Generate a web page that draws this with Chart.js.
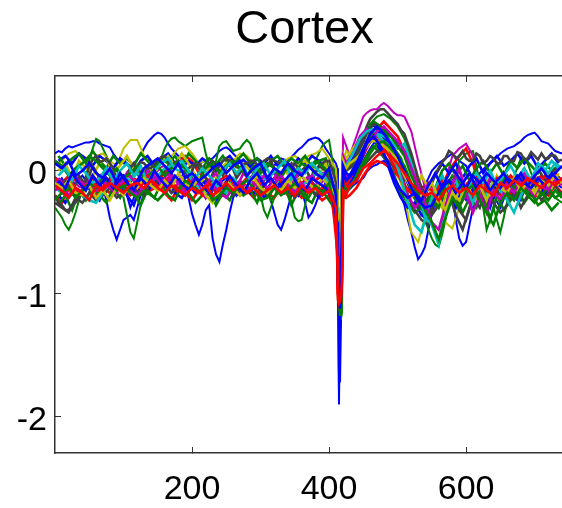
<!DOCTYPE html>
<html>
<head>
<meta charset="utf-8">
<title>Cortex</title>
<script src="https://cdn.jsdelivr.net/npm/chart.js@4"></script>
<style>
html, body { margin: 0; padding: 0; background: #fff; overflow: hidden; }
canvas { display: block; }
</style>
</head>
<body>
<canvas id="cortex-chart" width="562" height="508"></canvas>
<script>
// sample positions, denser around the stimulus artefact
const xs = [0,10,20,30,40,50,60,70,80,90,100,110,120,130,140,150,160,170,180,190,200,210,220,230,240,250,260,270,280,290,300,310,320,330,340,350,360,370,380,390,400,410,
  412,413,414.5,416,417.5,419,420.5,425,
  430,440,450,460,470,480,490,500,510,520,530,540,550,560,570,580,590,600,610,620,630,640,650,660,670,680,690,700,710,720,730,740];
const xsB = [5,15,25,35,45,55,65,75,85,95,105,115,125,135,145,155,165,175,185,195,205,215,225,235,245,255,265,275,285,295,305,315,325,335,345,355,365,375,385,395,405,
  412,413,414.5,416,417.5,419,420.5,425,
  435,445,455,465,475,485,495,505,515,525,535,545,555,565,575,585,595,605,615,625,635,645,655,665,675,685,695,705,715,725,735];
const xsFine = [0,5,10,15,20,25,30,35,40,45,50,55,60,65,70,75,80,85,90,95,100,105,110,115,120,125,130,135,140,145,150,155,160,165,170,175,180,185,190,195,200,205,210,215,220,225,230,235,240,245,250,255,260,265,270,275,280,285,290,295,300,305,310,315,320,325,330,335,340,345,350,355,360,365,370,375,380,385,390,395,400,405,410,
  412,413,414.5,416,417.5,419,420.5,425,
  430,435,440,445,450,455,460,465,470,475,480,485,490,495,500,505,510,515,520,525,530,535,540,545,550,555,560,565,570,575,580,585,590,595,600,605,610,615,620,625,630,635,640,645,650,655,660,665,670,675,680,685,690,695,700,705,710,715,720,725,730,735,740];

// traces, in hundredths
const blueDips = [-5,-8,-7,-10,-12,-9,-6,-9,-10,-8,-7,-10,-9,-11,-14,-24,-38,-48,-56,-48,-40,-38,-36,-40,-30,-20,-14,-10,-8,-11,-9,-6,-6,-9,-10,-8,-7,-10,-12,-22,-35,-44,-52,-44,-32,-28,-55,-68,-74,-60,-48,-34,-22,-16,-12,-15,-14,-17,-18,-13,-10,-12,-14,-24,-34,-44,-48,-40,-30,-20,-12,-13,-15,-26,-38,-34,-28,-20,-14,-17,-18,-24,-30,
  -40,-80,-190,-110,-70,-60,-20,-12,
  -15,-12,-10,-8,-6,-1,2,4,5,7,8,4,0,-6,-12,-20,-28,-40,-50,-62,-72,-68,-62,-48,-35,-26,-18,-14,-12,-16,-20,-40,-55,-61,-58,-44,-30,-20,-15,-22,-28,-20,-12,-16,-20,-13,-8,-11,-14,-20,-24,-16,-10,-14,-16,-14,-12,-17,-20,-14,-10,-12,-14];
const blueTop = [14,16,15,18,20,19,20,21,22,23,23,24,24,22,21,20,19,14,10,8,6,5,4,6,9,13,18,23,26,29,31,30,27,22,18,15,12,10,8,7,6,5,5,7,8,9,10,13,16,18,19,17,14,11,8,7,6,5,4,3,2,4,5,4,4,7,10,9,8,11,14,17,19,22,25,26,27,26,23,18,14,10,6,
  2,-60,-100,-172,-120,-70,10,5,
  4,8,14,18,22,25,28,31,34,33,32,30,28,25,22,18,14,8,2,-7,-16,-14,-12,-6,0,3,6,8,10,12,14,11,8,6,4,-1,-6,-4,-2,1,4,6,8,11,14,16,18,19,20,22,24,27,29,30,31,28,24,23,22,19,16,15,14];
const greenSwing = [-30,-34,-38,-44,-48,-42,-34,-24,-15,-4,8,18,26,24,18,12,6,0,-8,-14,-22,-36,-50,-55,-42,-28,-16,-10,-6,-1,4,10,18,23,26,27,24,22,20,22,24,25,26,27,14,4,2,8,20,23,24,20,16,17,18,22,25,22,14,-2,-20,-32,-38,-30,-22,-14,-8,-10,-14,-26,-38,-41,-40,-28,-14,-4,8,14,20,23,25,8,-8,
  -45,-110,-118,-119,-120,-115,-10,-8,
  -5,2,10,18,26,32,38,41,44,45,46,44,42,39,36,31,26,18,10,-5,-20,-30,-40,-48,-55,-60,-62,-52,-40,-25,-10,-1,8,11,14,15,16,4,-10,-30,-48,-40,-30,-40,-50,-38,-25,-14,-5,3,10,8,6,-2,-8,-12,-16,-17,-18,-20,-22,-24,-26];
const magentaPeak = [-8,-11,-12,-7,-6,-9,-10,-13,-14,-8,-4,-7,-8,-4,-2,-8,-12,-8,-6,-9,-10,-13,-14,-10,-8,-4,-2,-5,-6,-3,0,3,4,-1,-4,-7,-8,-4,-2,-7,-10,-15,-18,-15,-14,-10,-8,-13,-16,-12,-10,-7,-6,-11,-14,-10,-8,-5,-4,-9,-12,-8,-6,-3,-2,-7,-10,-13,-16,-10,-6,-10,-12,-7,-4,-7,-8,-4,-2,-1,-14,-18,-24,
  -50,-80,-100,-90,-70,-20,27,20,
  12,20,28,36,44,47,49,50,50,53,55,53,50,47,45,45,44,38,32,20,8,-3,-14,-24,-34,-31,-28,-18,-8,2,12,15,18,20,22,17,12,-1,-14,-22,-30,-26,-22,-17,-12,-16,-20,-17,-14,-11,-8,-12,-16,-14,-12,-9,-6,-10,-14,-12,-10,-8,-6];
const grayHigh = [-20,-26,-28,-32,-32,-28,-26,-22,-18,-6,4,9,12,7,8,10,6,2,0,-3,-4,-8,-10,-3,4,7,6,3,2,6,8,11,12,8,4,7,8,2,-2,2,4,6,6,3,2,6,8,5,4,8,10,7,6,3,2,5,6,8,8,5,4,8,10,9,8,7,6,3,2,5,6,2,0,3,4,1,-2,3,6,8,8,0,-10,
  -40,-70,-85,-80,-60,-20,10,6,
  4,8,12,20,28,36,42,45,48,50,50,47,44,41,38,33,30,22,14,4,-6,-14,-20,-14,-10,-3,2,7,10,16,14,10,12,16,10,8,8,14,12,6,8,12,10,6,6,12,12,8,8,15,14,9,10,15,12,9,14,10,10,13,12,8,9];

const oliveHump = [4,8,14,16,10,6,12,14,8,4,18,25,25,12,6,4,8,12,18,20,14,6,8,4,6,10,8,14,12,6,4,6,8,4,10,12,8,12,14,18,10,2,
  -15,-60,-95,-110,-80,-30,5,16,
  14,8,20,30,32,26,18,8,-20,-50,-58,-38,-24,-16,-42,-47,-30,-20,-10,-18,-6,-22,-10,-14,-4,-12,-20,-6,-12,-4,-14,-8];
const grayLow = [-26,-30,-34,-22,-26,-18,-24,-20,-14,-22,-18,-12,-16,-20,-8,-14,-10,-18,-14,-20,-12,-16,-22,-14,-18,-12,-20,-14,-18,-10,-16,-20,-12,-18,-14,-22,-16,-12,-20,-14,-18,-30,
  -45,-70,-80,-75,-65,-30,-8,-16,
  -12,-8,4,10,16,12,6,-2,-14,-26,-30,-22,-36,-28,-14,-18,-32,-40,-22,-30,-14,-26,-34,-28,-16,-30,-20,-14,-24,-18,-12,-20];
const cyanBand = [-14,-18,-22,-16,-20,-24,-26,-18,-10,-6,-4,-8,-2,-6,-10,-4,2,4,0,2,-8,-14,-18,-10,-14,-18,-6,-12,-8,-14,-4,-8,-12,-6,-10,-4,-12,-8,-2,-6,-10,-22,
  -35,-60,-75,-70,-55,-15,0,-6,
  -4,6,18,26,30,28,24,18,22,6,-16,-38,-44,-60,-30,-20,-8,-14,-26,-12,-20,-8,-16,-24,-34,-20,-10,-2,4,-2,6,2];
const greenMid = [8,4,-4,2,6,12,8,2,-4,2,-6,-2,4,-8,-2,4,-4,2,8,2,-4,-8,2,6,-2,4,8,2,-4,4,-2,6,2,-6,4,-2,6,2,8,4,-2,-18,
  -40,-80,-95,-100,-90,-40,-2,-8,
  -6,4,16,28,36,34,28,20,12,-4,-16,-26,-22,-30,-14,-4,-10,-18,-8,-22,-12,-20,-10,-4,-14,-8,-18,-10,-20,-14,-22,-18];
const blueMid = [6,2,8,-4,0,6,-2,-6,2,-10,-4,-14,-8,2,6,10,4,-2,6,-6,-2,-8,-4,2,6,-2,4,8,-4,2,6,-6,2,-2,6,0,-4,4,-2,-6,2,-20,
  -50,-90,-105,-112,-100,-60,4,-2,
  -4,6,18,30,36,30,22,12,0,-14,-24,-30,-28,-18,-8,2,-6,-14,-4,-10,-2,-8,-14,-6,-10,-2,-12,-4,2,-6,-2,4];
const oliveLow = [-10,-14,-8,-18,-20,-12,-22,-16,-24,-14,-20,-10,-14,-6,-12,-16,-8,-14,-2,-10,-14,-6,-20,-26,-16,-8,-14,-20,-12,-6,-14,-18,-10,-16,-8,-14,-4,-10,-16,-6,-12,-20,
  -35,-55,-65,-60,-50,-12,8,2,
  6,10,16,24,24,20,16,8,-4,-14,-22,-18,-10,-22,-32,-18,-24,-14,-20,-12,-24,-8,-14,-18,-6,-16,-10,-18,-8,-12,-4,-10];
const magentaLow = [-16,-12,-20,-14,-18,-10,-16,-8,-14,-18,-12,-16,-20,-14,-8,-6,-12,-4,-10,-18,-14,-8,-22,-12,-18,-22,-14,-8,-16,-12,-6,-14,-10,-4,-12,-18,-10,-16,-12,-20,-14,-24,
  -40,-65,-80,-70,-60,-20,4,-4,
  -6,4,14,24,32,36,30,24,16,2,-12,-26,-42,-48,-28,-12,2,-18,-34,-20,-34,-16,-24,-12,-18,-8,-14,-20,-10,-16,-6,-12];
const greenLow = [-24,-18,-14,-22,-16,-10,-14,-6,-10,-16,-12,-18,-22,-16,-20,-24,-18,-12,-16,-8,-12,-18,-14,-24,-20,-14,-18,-12,-8,-14,-24,-22,-14,-20,-16,-10,-16,-22,-12,-18,-10,-34,
  -50,-85,-105,-118,-110,-70,-12,-16,
  -14,-6,4,14,22,24,18,12,4,-10,-20,-32,-42,-56,-38,-22,-30,-16,-12,-24,-34,-44,-26,-18,-24,-14,-20,-26,-18,-24,-16,-22];
const blueLow = [-12,-6,-16,-10,-4,-12,-8,-14,-6,-18,-10,-30,-14,-8,-14,-6,-12,-18,-10,-14,-6,-12,-8,-16,-10,-6,-14,-18,-12,-20,-8,-14,-6,-12,-18,-8,-14,-6,-12,-18,-8,-26,
  -45,-90,-178,-120,-90,-60,-5,-12,
  -10,-2,8,18,26,22,14,6,-4,-18,-28,-34,-24,-30,-20,-8,-16,-24,-14,-4,-12,-20,-30,-16,-8,-16,-6,-14,-8,-16,-10,-6];
const redHigh = [-6,-10,-4,-8,-12,-6,-10,-4,-8,-10,-6,-4,-8,-6,-12,-8,-2,2,6,12,8,-2,-6,-10,-8,-4,-8,-12,-6,-10,-4,-8,-10,-6,-8,-4,-10,-6,-8,-4,-10,-28,
  -60,-100,-105,-110,-108,-80,2,-6,
  -4,2,12,24,34,40,34,28,16,4,-8,-18,-24,-16,-6,4,12,18,6,-14,-30,-18,-12,-20,-10,-6,-14,-8,-4,-10,-2,-8];
const redLow = [-20,-26,-14,-22,-16,-12,-20,-14,-18,-10,-16,-20,-14,-10,-16,-12,-18,-24,-14,-18,-24,-16,-20,-14,-22,-18,-12,-20,-16,-22,-14,-18,-22,-14,-20,-16,-22,-14,-18,-24,-20,-36,
  -75,-100,-110,-108,-100,-85,-20,-22,
  -20,-14,-4,4,8,6,2,-4,-12,-18,-22,-24,-22,-18,-12,-20,-14,-22,-16,-24,-18,-14,-20,-16,-22,-14,-18,-22,-14,-20,-12,-18];
const redMain = [-12,-16,-22,-14,-18,-24,-12,-16,-10,-14,-18,-12,-10,-14,-8,-14,-18,-12,-16,-20,-14,-18,-12,-20,-16,-10,-16,-12,-18,-14,-20,-16,-12,-18,-14,-20,-12,-18,-14,-20,-16,-30,
  -70,-105,-108,-106,-102,-90,-16,-20,
  -12,-8,2,6,12,16,12,6,-2,-10,-16,-20,-18,-24,-16,-12,-18,-14,-20,-12,-16,-20,-10,-14,-8,-12,-6,-10,-14,-8,-12,-6];

const blueUp = [8,12,6,14,10,4,12,8,2,10,6,-2,8,12,4,10,14,6,2,8,4,10,6,0,8,12,5,9,3,10,6,12,4,8,2,10,5,12,8,3,-10,
  -30,-55,-70,-60,-50,-10,8,2,
  10,24,32,38,30,24,14,4,-8,-20,-26,-14,-4,6,-2,6,-6,4,10,-2,6,12,4,8,14,6,12,2,8,14,6];
const greenUp = [12,4,10,14,6,16,8,2,12,6,10,4,14,8,2,10,6,12,4,14,8,2,10,5,12,4,8,14,6,10,2,8,12,4,10,6,12,3,8,10,-12,
  -40,-70,-85,-75,-65,-15,6,0,
  6,20,30,40,36,28,18,10,-8,-22,-30,-24,-14,0,6,-4,4,-8,2,8,-2,6,-4,8,2,10,4,-2,6,0,4];
const grayMid = [-14,-8,-18,-4,-12,4,-6,-14,0,-10,-2,6,-8,2,-12,-4,4,-8,2,-6,6,-2,-10,4,-4,8,-6,2,-8,4,-2,8,-6,0,6,-4,2,-8,4,0,-14,
  -35,-60,-70,-65,-50,-12,4,0,
  4,18,30,38,34,26,18,0,-20,-32,-40,-44,-20,-4,-18,-36,-48,-30,-12,-28,-6,-20,-2,-14,-22,-6,-14,2,-8,-2,4];
const cyanUp = [-4,2,-8,4,-2,-10,-6,2,-8,0,6,-4,4,-10,0,6,10,2,8,0,-6,2,-4,-10,0,6,-2,4,-8,2,6,-4,2,8,-6,2,-2,6,0,-6,-16,
  -30,-45,-55,-50,-40,-8,6,4,
  14,26,32,34,26,22,12,-6,-26,-44,-50,-30,-14,-4,-16,-8,-22,-12,-2,-10,0,-12,-4,4,-6,2,-8,6,0,8,2];
const oliveMid = [0,6,-6,8,2,-4,6,10,-2,4,12,2,-6,4,-2,6,12,4,14,6,-4,-8,2,-6,4,8,-2,6,0,-6,4,8,-4,2,-8,4,8,2,-4,6,-14,
  -28,-50,-60,-55,-45,-6,14,10,
  18,26,30,28,24,16,6,-10,-26,-18,-4,-14,-24,-30,-12,-22,-6,-16,-26,-10,-20,-4,-14,-6,-16,-4,-10,-20,-6,-14,-2];
const blueSag = [-20,-26,-16,-22,-12,-18,-24,-8,-16,-10,-20,-28,-12,-18,-6,-14,-10,-18,-22,-12,-18,-8,-14,-24,-16,-10,-20,-12,-18,-8,-22,-16,-10,-18,-12,-20,-8,-14,-22,-10,-24,
  -45,-85,-110,-105,-95,-50,-6,-14,
  -6,6,20,26,16,6,-10,-22,-30,-26,-36,-40,-18,-10,-22,-30,-12,-26,-8,-18,-30,-12,-6,-16,-24,-8,-18,-10,-20,-12,-4];
const greenSag = [-28,-20,-32,-16,-24,-12,-20,-26,-14,-22,-10,-18,-28,-16,-22,-10,-20,-24,-12,-18,-26,-20,-14,-28,-18,-24,-12,-20,-16,-26,-10,-24,-18,-12,-28,-16,-22,-26,-14,-20,-28,
  -48,-80,-95,-90,-85,-45,-14,-18,
  -10,2,12,20,14,8,-4,-18,-26,-34,-30,-22,-28,-16,-26,-20,-34,-22,-30,-16,-40,-20,-32,-24,-14,-26,-18,-28,-24,-32,-26];
const magentaMid = [-6,-14,-2,-8,-12,-4,-10,2,-6,-12,-2,-8,-14,0,-4,-10,-2,-14,-6,-12,-4,-16,-8,-2,-12,-6,-14,-2,-8,-12,-4,-10,-2,-8,-14,0,-8,-4,-12,-6,-20,
  -38,-58,-72,-65,-50,-15,12,6,
  14,28,34,30,26,20,10,-4,-20,-30,-24,-10,-16,-6,-18,-2,-24,-14,-8,-20,-6,-12,-4,-16,-8,-2,-12,-6,-14,-4,-10];
const redMid = [-14,-20,-10,-18,-12,-8,-16,-10,-6,-14,-8,-16,-12,-4,-10,-14,-6,-12,-18,-8,-14,-20,-10,-16,-12,-6,-14,-10,-16,-8,-12,-18,-6,-12,-16,-8,-14,-10,-16,-12,-26,
  -65,-95,-105,-100,-95,-70,-6,-12,
  -2,10,20,28,22,14,4,-8,-16,-20,-22,-14,-18,-8,-14,-10,-16,-8,-14,-10,-16,-6,-12,-4,-10,-14,-6,-12,-4,-10,-8];
const blueCore = [-8,-14,-2,-10,-16,-4,-12,-6,-14,-2,-10,-16,-6,-12,0,-8,-14,-4,-10,-16,-6,-12,-18,-8,-14,-4,-12,-18,-8,-2,-12,-6,-14,-8,-2,-12,-16,-6,-10,-14,-22,
  -42,-75,-95,-90,-80,-40,0,-8,
  -2,8,22,28,20,8,-6,-16,-22,-18,-24,-12,-2,-14,-8,-18,-10,-2,-14,-6,-16,-8,-2,-12,-4,-10,-14,-6,-12,-2,-8];

const xTicks = [200, 400, 600];
const yTicks = [-2, -1, 0];

const BLUE = '#0000ff', GREEN = '#008000', RED = '#ff0000', CYAN = '#00bfbf',
      MAGENTA = '#bf00bf', OLIVE = '#bfbf00', GRAY = '#404040';
const THIN = 2, WIDE = 2.6;

// listed in paint order, first at the back
const traces = [
  [blueDips, xsFine, BLUE, THIN], [blueTop, xsFine, BLUE, THIN], [greenSwing, xsFine, GREEN, THIN],
  [magentaPeak, xsFine, MAGENTA, THIN], [oliveHump, xs, OLIVE, THIN], [blueLow, xs, BLUE, THIN],
  [redHigh, xs, RED, WIDE], [redLow, xs, RED, WIDE], [blueUp, xsB, BLUE, WIDE], [blueSag, xsB, BLUE, WIDE],
  [greenSag, xsB, GREEN, WIDE], [grayLow, xs, GRAY, WIDE], [greenUp, xsB, GREEN, WIDE], [oliveMid, xsB, OLIVE, WIDE],
  [grayMid, xsB, GRAY, WIDE], [grayHigh, xsFine, GRAY, WIDE], [cyanBand, xs, CYAN, WIDE], [magentaMid, xsB, MAGENTA, WIDE],
  [greenMid, xs, GREEN, WIDE], [redMid, xsB, RED, WIDE], [cyanUp, xsB, CYAN, WIDE], [magentaLow, xs, MAGENTA, WIDE],
  [oliveLow, xs, OLIVE, WIDE], [greenLow, xs, GREEN, WIDE], [blueMid, xs, BLUE, WIDE], [blueCore, xsB, BLUE, WIDE],
  [redMain, xs, RED, WIDE]
];

// Chart.js has no offset for the title or the y labels, the reference has both a little off
const labelShift = {
  id: 'labelShift',
  afterLayout(chart) {
    chart.titleBlock.left += 47;
  },
  beforeDraw(chart) {
    chart.scales.y.getLabelItems(chart.chartArea).forEach(item => { item.textOffset += 4; });
  }
};

function axisStyle(extra) {
  return Object.assign({
    border: { color: '#333', width: 1.5 },
    grid: { drawOnChartArea: false, drawTicks: true, tickLength: -6, color: '#333', lineWidth: 1 }
  }, extra);
}

const labelFont = { family: '"Liberation Sans", Arial, sans-serif', size: 34 };

new Chart(document.getElementById('cortex-chart'), {
  type: 'line',
  data: {
    // Chart.js paints the first dataset last, so the list goes in reversed
    datasets: traces.slice().reverse().map(([values, positions, color, width]) => ({
      data: values.map((v, i) => ({ x: positions[i], y: v / 100 })),
      borderColor: color,
      borderWidth: width,
      pointRadius: 0,
      tension: 0,
      fill: false
    }))
  },
  plugins: [labelShift],
  options: {
    responsive: false,
    animation: false,
    layout: { padding: 0 },
    plugins: {
      legend: { display: false },
      tooltip: { enabled: false },
      title: {
        display: true,
        text: 'Cortex',
        color: '#000',
        font: { family: '"Liberation Sans", Arial, sans-serif', size: 47, weight: 'normal', lineHeight: 1.2 },
        padding: { top: 2, bottom: 17.6 }
      }
    },
    scales: {
      x: axisStyle({
        type: 'linear',
        min: 0,
        max: 740,
        afterFit: scale => { scale.height = 55; },
        afterBuildTicks: scale => { scale.ticks = xTicks.map(value => ({ value })); },
        ticks: { color: '#000', font: labelFont, padding: 22, maxRotation: 0, autoSkip: false }
      }),
      xTop: axisStyle({
        type: 'linear',
        position: 'top',
        min: 0,
        max: 740,
        afterFit: scale => { scale.height = 0; },
        afterBuildTicks: scale => { scale.ticks = xTicks.map(value => ({ value })); },
        ticks: { display: false }
      }),
      y: axisStyle({
        min: -2.295,
        max: 0.77,
        afterFit: scale => { scale.width = 55; },
        afterBuildTicks: scale => { scale.ticks = yTicks.map(value => ({ value })); },
        ticks: { color: '#000', font: labelFont, padding: 14 }
      })
    }
  }
});
</script>
</body>
</html>
